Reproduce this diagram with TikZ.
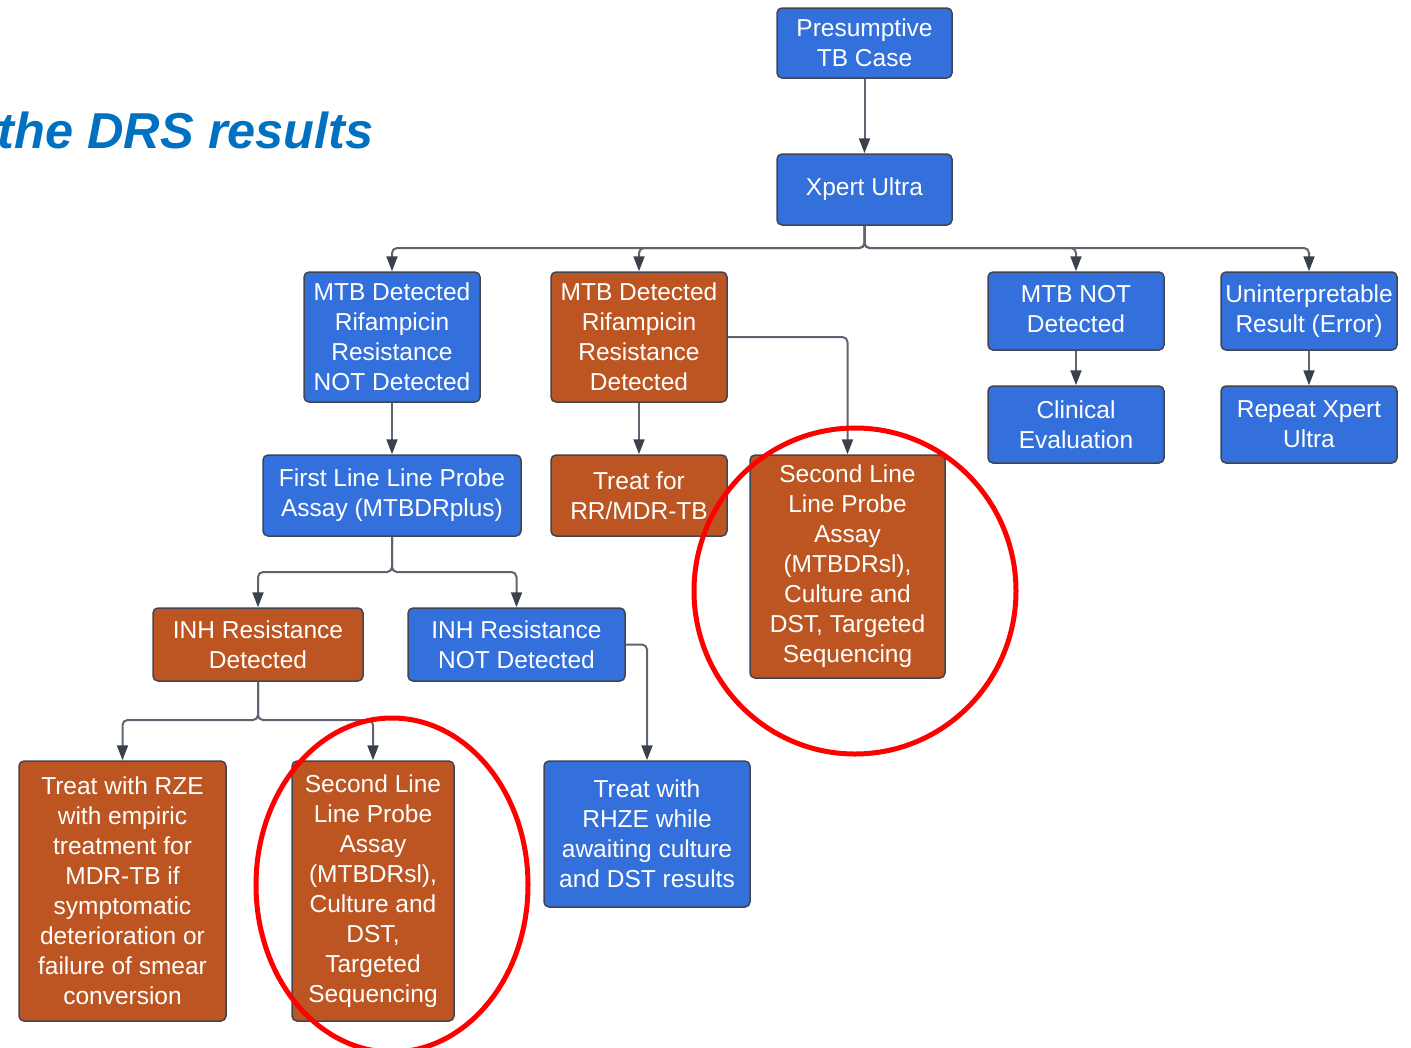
\documentclass[tikz,border=0pt]{standalone}
\usepackage{fontspec}
\setmainfont{Liberation Sans}
\usetikzlibrary{arrows.meta}
\definecolor{boxblue}{RGB}{51,112,219}
\definecolor{boxorange}{RGB}{188,85,34}
\definecolor{boxline}{RGB}{64,69,82}
\definecolor{wire}{RGB}{95,101,112}
\definecolor{tipgray}{RGB}{59,65,75}
\definecolor{titleblue}{RGB}{0,112,192}
\begin{document}
\begin{tikzpicture}[x=1pt,y=-1pt,line width=2pt,draw=wire]
	\useasboundingbox (0,0) rectangle (1411,1047);
	\tikzstyle{every node}=[rectangle,rounded corners=5pt,draw=boxline,line width=1.5pt,text=white,align=center,inner sep=0pt,font=\fontsize{24.5}{30}\selectfont]
	\tikzstyle{BL} =[fill=boxblue]   % BL = blue step
	\tikzstyle{OR} =[fill=boxorange] % OR = resistance step
	\tikzstyle{arr}=[-{Triangle[length=15pt,width=11pt,color=tipgray]},draw=wire,line width=2pt,rounded corners=5pt]
	% title (cut at the left edge)
	\node(title)[draw=none,text=titleblue,anchor=base west,font=\fontsize{50.5}{58}\selectfont\bfseries\itshape] at (-3,148) {the DRS results};
	% top
	\node(ptb)[BL,minimum width=175pt,minimum height=70pt] at (864.5,43) {Presumptive\\TB Case};
	\node(xpert)[BL,minimum width=175pt,minimum height=71pt] at (864.5,189.5) {Xpert Ultra};
	% first row of results
	\node(mtbrs)[BL,minimum width=176pt,minimum height=130pt] at (392,337) {MTB Detected\\Rifampicin\\Resistance\\NOT Detected};
	\node(mtbrr)[OR,minimum width=176pt,minimum height=130pt] at (639,337) {MTB Detected\\Rifampicin\\Resistance\\Detected};
	\node(mtbnot)[BL,minimum width=176pt,minimum height=78pt] at (1076,311) {\raisebox{9pt}{\begin{tabular}{@{}c@{}}MTB NOT\\Detected\end{tabular}}};
	\node(uninterp)[BL,minimum width=176pt,minimum height=78pt] at (1309,311) {\raisebox{4pt}{\begin{tabular}{@{}c@{}}Uninterpretable\\Result (Error)\end{tabular}}};
	\node(clinical)[BL,minimum width=176pt,minimum height=77pt] at (1076,424.5) {Clinical\\Evaluation};
	\node(repeat)[BL,minimum width=176pt,minimum height=77pt] at (1309,424.5) {Repeat Xpert\\Ultra};
	% second row
	\node(fllpa)[BL,minimum width=258pt,minimum height=81pt] at (392,495.5) {First Line Line Probe\\Assay (MTBDRplus)};
	\node(treatrr)[OR,minimum width=176pt,minimum height=81pt] at (639,495.5) {Treat for\\RR/MDR-TB};
	\node(sllpa)[OR,minimum width=195pt,minimum height=223pt] at (847.5,566.5) {Second Line\\Line Probe\\Assay\\(MTBDRsl),\\Culture and\\DST, Targeted\\Sequencing};
	% INH
	\node(inhr)[OR,minimum width=210pt,minimum height=73pt] at (258,644.5) {INH Resistance\\Detected};
	\node(inhnr)[BL,minimum width=217pt,minimum height=73pt] at (516.5,644.5) {INH Resistance\\NOT Detected};
	% bottom row
	\node(rze)[OR,minimum width=207pt,minimum height=260pt] at (122.5,891) {Treat with RZE\\with empiric\\treatment for\\MDR-TB if\\symptomatic\\deterioration or\\failure of smear\\conversion};
	\node(sllpb)[OR,minimum width=162pt,minimum height=260pt] at (373,891) {Second Line\\Line Probe\\Assay\\(MTBDRsl),\\Culture and\\DST,\\Targeted\\Sequencing};
	\node(rhze)[BL,minimum width=206pt,minimum height=146pt] at (647,834) {Treat with\\RHZE while\\awaiting culture\\and DST results};
	% connectors
	\coordinate(bus) at (864.5,248);
	\coordinate(fork1) at (392,572);
	\coordinate(fork2) at (258,720);
	\draw[arr](ptb.south)--(xpert.north);
	\draw[arr](xpert.south)--(bus)-|(mtbrs.north);
	\draw[arr](xpert.south)--(bus)-|(mtbrr.north);
	\draw[arr](xpert.south)--(bus)-|(mtbnot.north);
	\draw[arr](xpert.south)--(bus)-|(uninterp.north);
	\draw[arr](mtbnot.south)--(clinical.north);
	\draw[arr](uninterp.south)--(repeat.north);
	\draw[arr](mtbrs.south)--(fllpa.north);
	\draw[arr](mtbrr.south)--(treatrr.north);
	\draw[arr](mtbrr.east)-|(sllpa.north);
	\draw[arr](fllpa.south)--(fork1)-|(inhr.north);
	\draw[arr](fllpa.south)--(fork1)-|(inhnr.north);
	\draw[arr](inhr.south)--(fork2)-|(rze.north);
	\draw[arr](inhr.south)--(fork2)-|(sllpb.north);
	\draw[arr](inhnr.east)-|(rhze.north);
	% red marks
	\draw[red,line width=5pt](855,591) ellipse [x radius=161,y radius=163];
	\draw[red,line width=5pt](392,885) ellipse [x radius=136,y radius=167];
\end{tikzpicture}
\end{document}
